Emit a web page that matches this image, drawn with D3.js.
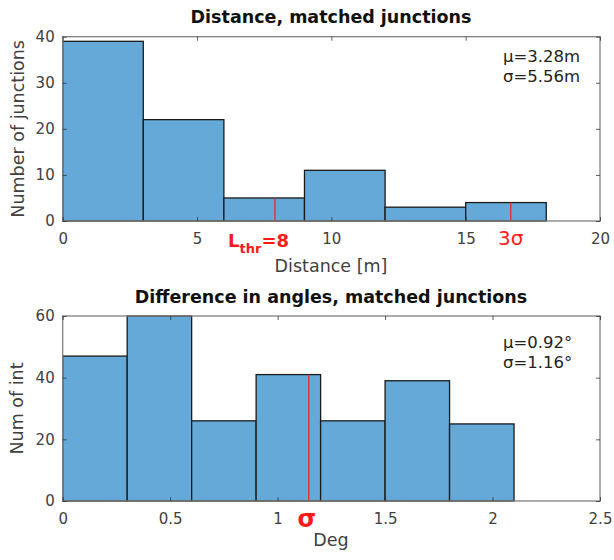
<!DOCTYPE html>
<html>
<head>
<meta charset="utf-8">
<script src="https://cdn.jsdelivr.net/npm/d3@7"></script>
<style>
  body { margin: 0; background: #fff; }
  text { font-family: "DejaVu Sans", Verdana, sans-serif; }
</style>
</head>
<body>
<div class="dataviz"></div>
<script>
// histogram data
var distEdges = [0, 3, 6, 9, 12, 15, 18];
var distCounts = [39, 22, 5, 11, 3, 4];
var distTicksX = [0, 5, 10, 15, 20];
var distTicksY = [0, 10, 20, 30, 40];

var angEdges = [0, 0.3, 0.6, 0.9, 1.2, 1.5, 1.8, 2.1];
var angCounts = [47, 60, 26, 41, 26, 39, 25];
var angTicksX = [0, 0.5, 1, 1.5, 2, 2.5];
var angTicksY = [0, 20, 40, 60];

// threshold markers: [x value, bin height]
var distMarks = [[7.9, 5], [16.68, 4]];
var angMarks = [[1.145, 41]];

var W = 614, H = 560;
var svg = d3.select(".dataviz").append("svg")
    .attr("width", W).attr("height", H);

function panel(opt) {
  var g = svg.append("g");
  var x = d3.scaleLinear().domain(opt.xDomain).range([62.7, 600]);
  var y = d3.scaleLinear().domain(opt.yDomain).range([opt.bottom, opt.top]);

  // bars
  var bins = opt.counts.map(function(c, i) { return {x0: opt.edges[i], x1: opt.edges[i + 1], v: c}; });
  g.selectAll("rect.bar")
    .data(bins)
    .enter().append("rect")
      .attr("class", "bar")
      .attr("x", function(d) { return x(d.x0); })
      .attr("y", function(d) { return y(d.v); })
      .attr("width", function(d) { return x(d.x1) - x(d.x0); })
      .attr("height", function(d) { return y(0) - y(d.v); })
      .attr("fill", "#64a9d7")
      .attr("stroke", "#1a1a1a")
      .attr("stroke-width", 1.3);

  // red markers
  g.selectAll("line.mark")
    .data(opt.marks)
    .enter().append("line")
      .attr("x1", function(d) { return x(d[0]); })
      .attr("x2", function(d) { return x(d[0]); })
      .attr("y1", function(d) { return y(d[1]); })
      .attr("y2", y(0))
      .attr("stroke", "#ff1a1a")
      .attr("stroke-width", 1.2);

  // axes box
  g.append("rect")
    .attr("x", x.range()[0]).attr("y", opt.top)
    .attr("width", x.range()[1] - x.range()[0]).attr("height", opt.bottom - opt.top)
    .attr("fill", "none").attr("stroke", "#808080").attr("stroke-width", 1.3);

  var xAxis = d3.axisBottom(x).tickValues(opt.xTicks).tickSize(-4).tickPadding(12)
    .tickFormat(d3.format("~g"));
  var xTop = d3.axisTop(x).tickValues(opt.xTicks).tickSize(-4).tickFormat("");
  var yAxis = d3.axisLeft(y).tickValues(opt.yTicks).tickSize(-4).tickPadding(8);
  var yRight = d3.axisRight(y).tickValues(opt.yTicks).tickSize(-4).tickFormat("");

  [[xAxis, "translate(0," + opt.bottom + ")"], [xTop, "translate(0," + opt.top + ")"],
   [yAxis, "translate(62.7,0)"], [yRight, "translate(600,0)"]].forEach(function(a) {
    var ax = g.append("g").attr("transform", a[1]).call(a[0]);
    ax.select(".domain").remove();
    ax.selectAll(".tick line").attr("stroke", "#333").attr("stroke-width", 0.8);
    ax.selectAll("text").attr("fill", "#404040").attr("font-size", 15)
      .attr("font-family", "DejaVu Sans");
  });

  // titles
  g.append("text")
    .attr("x", 331).attr("y", opt.titleY)
    .attr("text-anchor", "middle").attr("font-size", 17.5).attr("font-weight", "bold")
    .attr("fill", "#111").text(opt.title);
  g.append("text")
    .attr("x", 331).attr("y", opt.xLabelY)
    .attr("text-anchor", "middle").attr("font-size", 17.5).attr("fill", "#404040")
    .text(opt.xLabel);
  g.append("text")
    .attr("transform", "translate(" + opt.yLabelX + "," + ((opt.top + opt.bottom) / 2) + ") rotate(-90)")
    .attr("text-anchor", "middle").attr("font-size", 17.5).attr("fill", "#404040")
    .text(opt.yLabel);

  // stats
  opt.stats.forEach(function(s, i) {
    g.append("text")
      .attr("x", 503).attr("y", opt.statsY + i * 20)
      .attr("font-size", 16.5).attr("fill", "#222").text(s);
  });
  return {g: g, x: x, y: y};
}

var p1 = panel({
  xDomain: [0, 20], yDomain: [0, 40], top: 36.7, bottom: 221,
  edges: distEdges, counts: distCounts, marks: distMarks,
  xTicks: distTicksX, yTicks: distTicksY,
  title: "Distance, matched junctions", titleY: 23,
  xLabel: "Distance [m]", xLabelY: 272,
  yLabel: "Number of junctions", yLabelX: 24,
  stats: ["\u03bc=3.28m", "\u03c3=5.56m"], statsY: 61.5
});

var p2 = panel({
  xDomain: [0, 2.5], yDomain: [0, 60], top: 316, bottom: 501,
  edges: angEdges, counts: angCounts, marks: angMarks,
  xTicks: angTicksX, yTicks: angTicksY,
  title: "Difference in angles, matched junctions", titleY: 303,
  xLabel: "Deg", xLabelY: 546,
  yLabel: "Num of int", yLabelX: 23,
  stats: ["\u03bc=0.92\u00b0", "\u03c3=1.16\u00b0"], statsY: 348
});

// red marker labels
var lt = p1.g.append("text")
  .attr("x", 228).attr("y", 247)
  .attr("fill", "#ff1a1a").attr("font-weight", "bold").attr("font-size", 18);
lt.append("tspan").text("L");
lt.append("tspan").attr("font-size", 13).attr("dy", 6).text("thr");
lt.append("tspan").attr("dy", -6).text("=8");

p1.g.append("text")
  .attr("x", p1.x(16.68)).attr("y", 245).attr("text-anchor", "middle")
  .attr("fill", "#ff1a1a").attr("font-size", 20).text("3\u03c3");

p2.g.append("text")
  .attr("x", p2.x(1.145) - 2).attr("y", 527).attr("text-anchor", "middle")
  .attr("fill", "#ff1a1a").attr("font-weight", "bold").attr("font-size", 24).text("\u03c3");
</script>
</body>
</html>
